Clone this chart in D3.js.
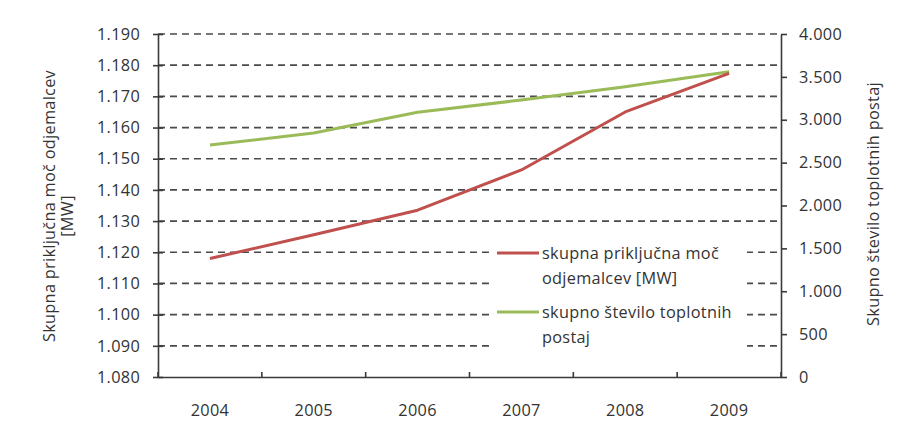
<!DOCTYPE html>
<html>
<head>
<meta charset="utf-8">
<script src="https://cdn.jsdelivr.net/npm/d3@7"></script>
<style>
  html, body { margin: 0; padding: 0; background: #fff; }
  svg { display: block; }
  text { font-family: "Open Sans", sans-serif; fill: #333; letter-spacing: 0.3px; }
</style>
</head>
<body>
<svg id="chart" width="897" height="434"></svg>
<script>
// ---- data ----
const years = ["2004", "2005", "2006", "2007", "2008", "2009"];
const powerMW = [1118, 1125.6, 1133.5, 1146.4, 1165, 1177.4];      // left axis
const stations = [2705, 2845, 3087, 3230, 3386, 3560];              // right axis
const leftTicks = [1080, 1090, 1100, 1110, 1120, 1130, 1140, 1150, 1160, 1170, 1180, 1190];
const rightTicks = [0, 500, 1000, 1500, 2000, 2500, 3000, 3500, 4000];
const seriesNames = ["skupna priključna moč|odjemalcev [MW]", "skupno število toplotnih|postaj"];
const leftTitle = ["Skupna priključna  moč odjemalcev", "[MW]"];
const rightTitle = "Skupno število toplotnih postaj";

const colors = ["#c0504d", "#9bbb59"];
const FS = "16.3px";

const loc = d3.formatLocale({decimal: ",", thousands: ".", grouping: [3], currency: ["", "€"]});
const fmt = loc.format(",d");

const svg = d3.select("#chart");
const L = 158, R = 781, T = 34, B = 377;

const x = d3.scaleBand().domain(years).range([L, R]);
const y1 = d3.scaleLinear().domain([1080, 1190]).range([B, T]);
const y2 = d3.scaleLinear().domain([0, 4000]).range([B, T]);

// gridlines
svg.append("g").selectAll("line")
  .data(leftTicks.filter(d => d !== 1080))
  .join("line")
  .attr("x1", L).attr("x2", R)
  .attr("y1", d => y1(d)).attr("y2", d => y1(d))
  .attr("stroke", "#4a4a4a").attr("stroke-width", 1.7)
  .attr("stroke-dasharray", "7,5");

// left axis
const gL = svg.append("g").attr("transform", `translate(${L},0)`)
  .call(d3.axisLeft(y1).tickValues(leftTicks).tickFormat(fmt).tickSizeInner(5).tickSizeOuter(0).tickPadding(13));
gL.selectAll(".tick line").attr("x1", 5);
gL.selectAll(".domain, .tick line").attr("stroke", "#3a3a3a").attr("stroke-width", 1.6);
gL.selectAll("text").style("font-size", FS).attr("fill", "#333").style("font-family", "Open Sans");

// right axis
const gR = svg.append("g").attr("transform", `translate(${R},0)`)
  .call(d3.axisRight(y2).tickValues(rightTicks).tickFormat(fmt).tickSizeInner(6).tickSizeOuter(0).tickPadding(12));
gR.selectAll(".domain, .tick line").attr("stroke", "#3a3a3a").attr("stroke-width", 1.6);
gR.selectAll("text").style("font-size", FS).attr("fill", "#333").style("font-family", "Open Sans");

// bottom axis
const gB = svg.append("g").attr("transform", `translate(0,${B})`)
  .call(d3.axisBottom(x).tickSize(0).tickPadding(27));
gB.select(".domain").attr("stroke", "#3a3a3a").attr("stroke-width", 1.6);
gB.selectAll("text").style("font-size", FS).attr("fill", "#333").style("font-family", "Open Sans");
gB.selectAll("line.sep")
  .data(years.map(d => x(d)).concat([x.range()[1]]))
  .join("line").attr("class", "sep")
  .attr("x1", d => d).attr("x2", d => d).attr("y1", 0).attr("y2", -5)
  .attr("stroke", "#3a3a3a").attr("stroke-width", 1.6);

// lines
const cx = d => x(d) + x.bandwidth() / 2;
const line1 = d3.line().x((d, i) => cx(years[i])).y(d => y1(d));
const line2 = d3.line().x((d, i) => cx(years[i])).y(d => y2(d));
svg.append("path").datum(stations).attr("d", line2)
  .attr("fill", "none").attr("stroke", colors[1]).attr("stroke-width", 3).attr("stroke-linejoin", "round");
svg.append("path").datum(powerMW).attr("d", line1)
  .attr("fill", "none").attr("stroke", colors[0]).attr("stroke-width", 3).attr("stroke-linejoin", "round");

// legend
const lg = svg.append("g");
lg.append("rect").attr("x", 492).attr("y", 238).attr("width", 255).attr("height", 116).attr("fill", "#fff");
const legY = [253, 312];
seriesNames.forEach((name, i) => {
  lg.append("line").attr("x1", 497).attr("x2", 539).attr("y1", legY[i]).attr("y2", legY[i])
    .attr("stroke", colors[i]).attr("stroke-width", 3);
  const parts = name.split("|");
  parts.forEach((p, j) => {
    lg.append("text").attr("x", 542).attr("y", legY[i] + 5.5 + j * 25)
      .style("font-size", FS).text(p);
  });
});

// axis titles
const lt = svg.append("g").attr("transform", "translate(0,206) rotate(-90)");
lt.append("text").attr("x", 0).attr("y", 55).attr("text-anchor", "middle").style("font-size", FS).text(leftTitle[0]);
lt.append("text").attr("x", -10).attr("y", 73).attr("text-anchor", "middle").style("font-size", FS).text(leftTitle[1]);
svg.append("text").attr("transform", "translate(879,204) rotate(-90)")
  .attr("text-anchor", "middle").style("font-size", FS).text(rightTitle);
</script>
</body>
</html>
